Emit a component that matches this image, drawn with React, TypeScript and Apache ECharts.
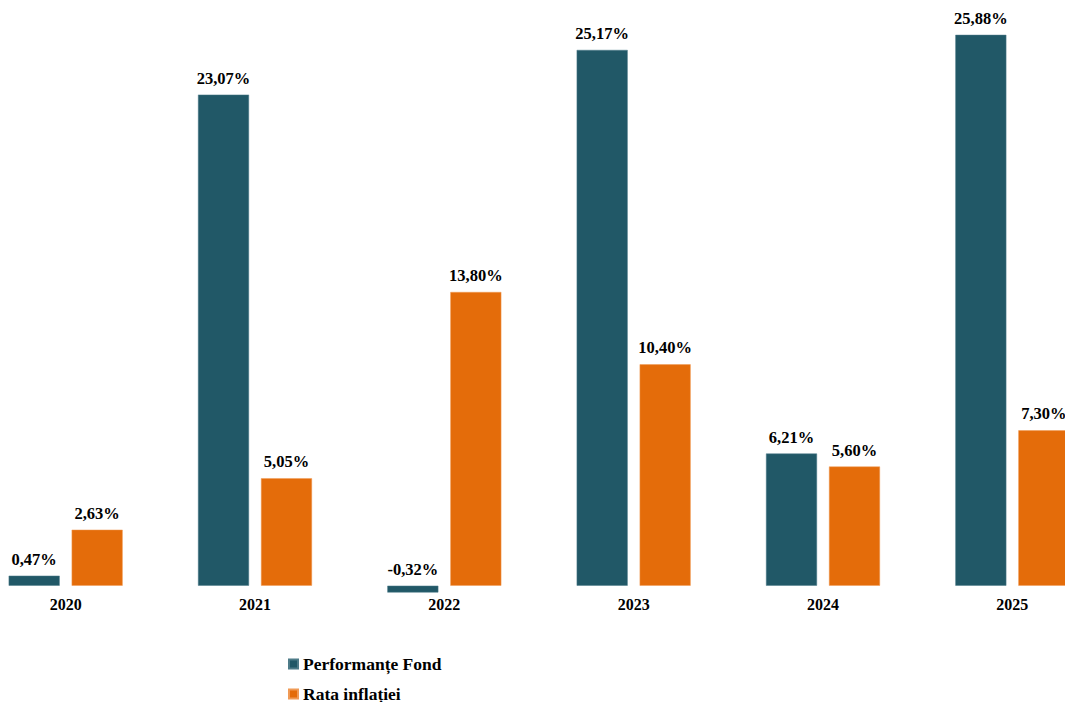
import React, { useEffect, useRef } from "react";
import * as echarts from "echarts";

const categories = ["2020", "2021", "2022", "2023", "2024", "2025"];
const fundPerformance = [0.47, 23.07, -0.32, 25.17, 6.21, 25.88];
const inflationRate = [2.63, 5.05, 13.8, 10.4, 5.6, 7.3];
const seriesNames = ["Performanțe Fond", "Rata inflației"];

const FONT = "'Liberation Serif', 'Times New Roman', serif";

const fmt = (v: number) => v.toFixed(2).replace(".", ",") + "%";

export default function App() {
  const ref = useRef<HTMLDivElement>(null);
  useEffect(() => {
    if (!ref.current) return;
    const chart = echarts.init(ref.current, undefined, { renderer: "svg" });
    const label = {
      show: true,
      position: "top" as const,
      distance: 8,
      fontFamily: FONT,
      fontWeight: "bold" as const,
      fontSize: 16.5,
      color: "#000",
      formatter: (p: any) => fmt(p.value as number),
    };
    chart.setOption({
      animation: false,
      grid: { left: 0, right: 0, top: 11, height: 596 },
      legend: {
        orient: "vertical",
        left: 317,
        top: 655,
        padding: 0,
        itemWidth: 9,
        itemHeight: 9,
        itemGap: 12,
        icon: "rect",
        textStyle: { fontFamily: FONT, fontWeight: "bold", fontSize: 17.5, color: "#000" },
        data: seriesNames,
      },
      xAxis: {
        type: "category",
        data: categories,
        offset: -21.3,
        axisLine: { show: false, onZero: false },
        axisTick: { show: false },
        axisLabel: {
          margin: 11,
          fontFamily: FONT,
          fontWeight: "bold",
          fontSize: 16,
          color: "#000",
        },
      },
      yAxis: {
        type: "value",
        min: -1,
        max: 27,
        axisLabel: { show: false },
        axisLine: { show: false },
        axisTick: { show: false },
        splitLine: { show: false },
      },
      series: [
        {
          name: seriesNames[0],
          type: "bar",
          data: fundPerformance,
          barWidth: 51,
          barGap: "23.5%",
          itemStyle: { color: "#215867", borderColor: "#4d7b88", borderWidth: 0.5 },
          label,
        },
        {
          name: seriesNames[1],
          type: "bar",
          data: inflationRate,
          barWidth: 51,
          barGap: "23.5%",
          itemStyle: { color: "#E46C0A", borderColor: "#f09a55", borderWidth: 0.5 },
          label,
        },
      ],
    });
    return () => chart.dispose();
  }, []);
  return (
    <div style={{ position: "fixed", left: 0, top: 0, width: 1065, height: 702, overflow: "hidden", background: "#fff" }}>
      <div ref={ref} style={{ position: "absolute", left: -29, top: 0, width: 1136, height: 780 }} />
    </div>
  );
}
